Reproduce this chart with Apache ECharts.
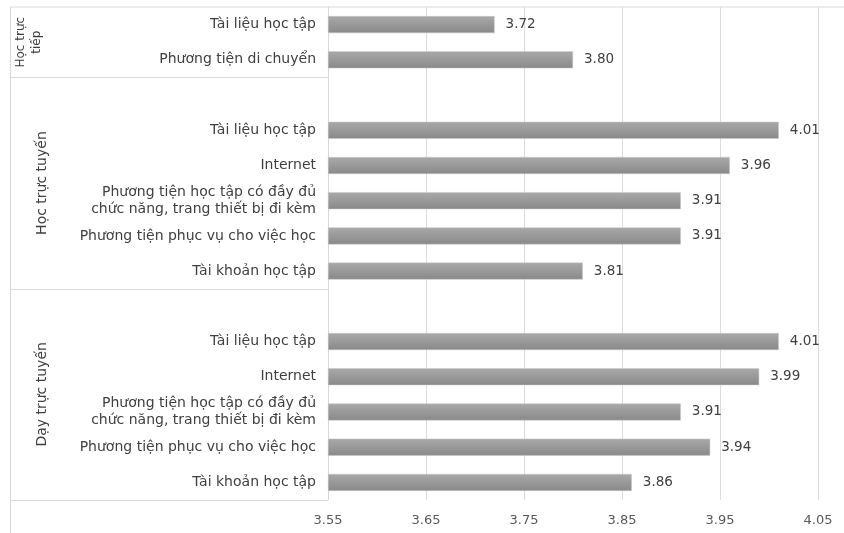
<!DOCTYPE html>
<html>
<head>
<meta charset="utf-8">
<script src="https://cdn.jsdelivr.net/npm/echarts@6/dist/echarts.min.js"></script>
<style>
  html, body { margin: 0; padding: 0; background: #fff; }
  #chart { width: 844px; height: 533px; }
</style>
</head>
<body>
<div id="chart"></div>
<script>
// danh mục theo thứ tự từ trên xuống ('' = hàng trống giữa các nhóm)
var categories = [
  "Tài liệu học tập",
  "Phương tiện di chuyển",
  "",
  "Tài liệu học tập",
  "Internet",
  "Phương tiện học tập có đầy đủ\nchức năng, trang thiết bị đi kèm",
  "Phương tiện phục vụ cho việc học",
  "Tài khoản học tập",
  "",
  "Tài liệu học tập",
  "Internet",
  "Phương tiện học tập có đầy đủ\nchức năng, trang thiết bị đi kèm",
  "Phương tiện phục vụ cho việc học",
  "Tài khoản học tập"
];
var values = [3.72, 3.80, null, 4.01, 3.96, 3.91, 3.91, 3.81, null, 4.01, 3.99, 3.91, 3.94, 3.86];

// nhóm: tên, hàng đầu, hàng cuối
var groupNames = ["Học trực\ntiếp", "Học trực tuyến", "Dạy trực tuyến"];
var groupStart = [0, 2, 8];
var groupEnd = [1, 7, 13];

// trục X: 3.55 -> 4.05, bước 0.1
var axisBase = 3.55;
var axisTop = 4.05;
var axisStep = 0.1;

var chartDom = document.getElementById("chart");
var myChart = echarts.init(chartDom);
var font = "'DejaVu Sans', sans-serif";

var barData = values.map(function (v) {
  return v == null ? null : +(v - axisBase).toFixed(4);
});

var option = {
  animation: false,
  grid: { left: 328, right: 26, top: 7, bottom: 33 },
  xAxis: {
    type: "value",
    min: 0,
    max: +(axisTop - axisBase).toFixed(4),
    interval: axisStep,
    axisLine: { show: false },
    axisTick: { show: false },
    splitLine: { lineStyle: { color: "#dcdcdc", width: 1 } },
    axisLabel: {
      margin: 14,
      color: "#595959",
      fontSize: 13,
      fontFamily: font,
      formatter: function (v) { return (v + axisBase).toFixed(2); }
    }
  },
  yAxis: {
    type: "category",
    inverse: true,
    data: categories,
    axisLine: { lineStyle: { color: "#d9d9d9" } },
    axisTick: { show: false },
    axisLabel: {
      margin: 12,
      color: "#404040",
      fontSize: 14,
      lineHeight: 17,
      fontFamily: font
    }
  },
  series: [
    {
      type: "bar",
      data: barData,
      barWidth: 17,
      itemStyle: {
        color: new echarts.graphic.LinearGradient(0, 0, 0, 1, [
          { offset: 0, color: "#a9a9a9" },
          { offset: 1, color: "#898989" }
        ]),
        borderColor: "#c8c8c8",
        borderWidth: 0.5
      },
      label: {
        show: true,
        position: "right",
        distance: 11,
        color: "#404040",
        fontSize: 13.5,
        fontFamily: font,
        formatter: function (p) { return values[p.dataIndex].toFixed(2); }
      }
    }
  ]
};

option && myChart.setOption(option);

// đường phân nhóm và nhãn nhóm, đặt theo toạ độ của trục
function drawGroups() {
  var c0 = myChart.convertToPixel({ yAxisIndex: 0 }, 0);
  var c1 = myChart.convertToPixel({ yAxisIndex: 0 }, 1);
  var band = c1 - c0;
  var left = 10;
  var axisX = myChart.convertToPixel({ xAxisIndex: 0 }, 0);
  var topY = c0 - band / 2;
  var lineStyle = { stroke: "#d9d9d9", lineWidth: 1 };
  var elements = [];

  // viền trên và viền trái
  elements.push({ type: "line", shape: { x1: left, y1: topY, x2: 844, y2: topY }, style: lineStyle, silent: true });
  elements.push({ type: "line", shape: { x1: left + 0.5, y1: topY, x2: left + 0.5, y2: 533 }, style: lineStyle, silent: true });

  for (var i = 0; i < groupNames.length; i++) {
    var yA = myChart.convertToPixel({ yAxisIndex: 0 }, groupStart[i]) - band / 2;
    var yB = myChart.convertToPixel({ yAxisIndex: 0 }, groupEnd[i]) + band / 2;
    elements.push({
      type: "line",
      shape: { x1: left, y1: Math.round(yB) + 0.5, x2: axisX, y2: Math.round(yB) + 0.5 },
      style: lineStyle,
      silent: true
    });
    var isTwoLine = groupNames[i].indexOf("\n") >= 0;
    elements.push({
      type: "text",
      x: isTwoLine ? 29 : 42,
      y: (yA + yB) / 2,
      rotation: Math.PI / 2,
      silent: true,
      style: {
        text: groupNames[i],
        fill: "#404040",
        font: (isTwoLine ? "12px " : "14px ") + font,
        lineHeight: 16,
        align: "center",
        verticalAlign: "middle"
      }
    });
  }
  myChart.setOption({ graphic: { elements: elements } });
}
drawGroups();
</script>
</body>
</html>
